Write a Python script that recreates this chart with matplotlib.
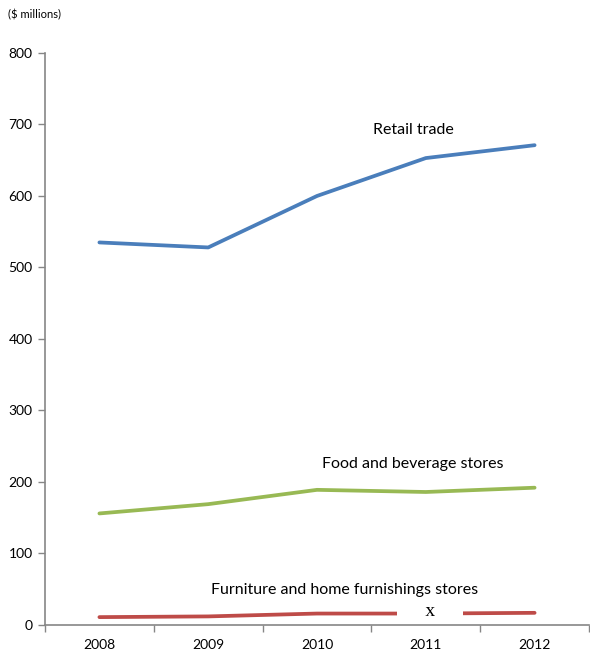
import matplotlib.pyplot as plt
from matplotlib.ticker import FixedLocator

plt.rcParams['font.family'] = ['Lato', 'DejaVu Sans']

years = ['2008', '2009', '2010', '2011', '2012']
retail = [535, 528, 600, 653, 671]
food = [156, 169, 189, 186, 192]
furniture = [11, 12, 16, 16, 17]

fig = plt.figure(figsize=(5.9, 6.53), dpi=100)
ax = fig.add_axes([0.0763, 0.0429, 0.922, 0.876])

x = list(range(len(years)))
ax.plot(x, retail, color='#4A7EBB', lw=2.7, solid_capstyle='round')
ax.plot(x, food, color='#98B954', lw=2.7, solid_capstyle='round')
ax.plot(x, furniture, color='#BE4B48', lw=2.7, solid_capstyle='round')

# value suppressed for 2011
ax.text(3.04, furniture[3] + 3, '     x     ', family='Liberation Serif', fontsize=14,
        ha='center', va='center',
        bbox=dict(facecolor='white', edgecolor='none', pad=3))

ax.text(2.89, 692, 'Retail trade', ha='center', va='center', fontsize=11.5)
ax.text(2.88, 225, 'Food and beverage stores', ha='center', va='center', fontsize=11.5)
ax.text(2.255, 49, 'Furniture and home furnishings stores', ha='center', va='center', fontsize=11.5)

fig.text(0.014, 0.977, '($ millions)', ha='left', va='center', fontsize=8)

ax.set_xlim(-0.5, 4.5)
ax.set_ylim(0, 800)
ax.set_yticks(range(0, 801, 100))
ax.xaxis.set_major_locator(FixedLocator([i - 0.5 for i in range(6)]))
ax.set_xticklabels([])
ax.xaxis.set_minor_locator(FixedLocator(x))
ax.set_xticklabels(years, minor=True)
ax.tick_params(axis='x', which='minor', length=0, pad=10, labelsize=10)
ax.tick_params(axis='x', which='major', length=5, color='#868686', width=1)
ax.tick_params(axis='y', length=5, color='#868686', width=1, labelsize=10, pad=4)

for s in ['top', 'right']:
    ax.spines[s].set_visible(False)
for s in ['left', 'bottom']:
    ax.spines[s].set_color('#868686')
    ax.spines[s].set_linewidth(1.2)

fig.savefig('out.png', dpi=100)
